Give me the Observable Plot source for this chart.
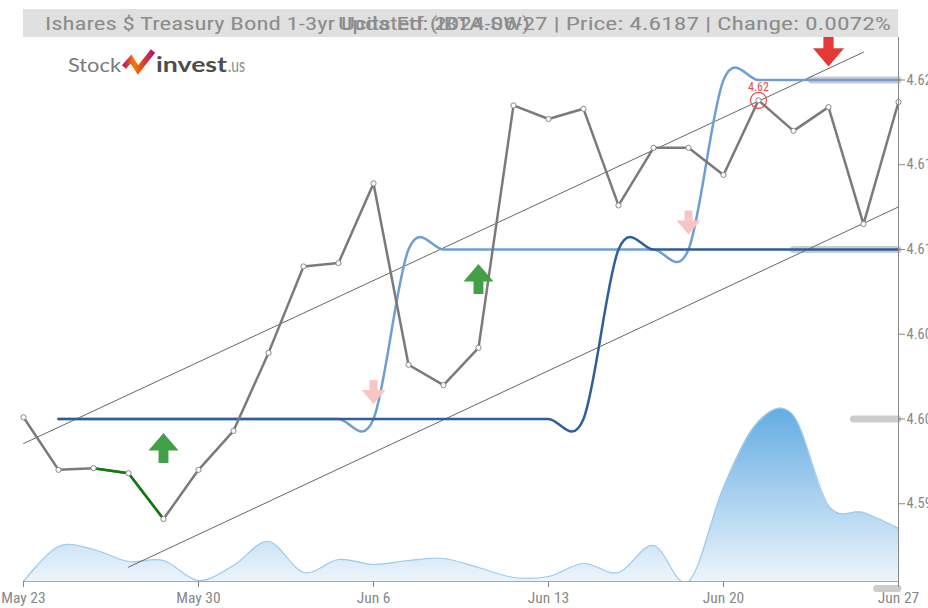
<!DOCTYPE html>
<html><head><meta charset="utf-8">
<script src="https://cdn.jsdelivr.net/npm/d3@7"></script>
<script src="https://cdn.jsdelivr.net/npm/@observablehq/plot@0.6"></script>
<style>
body{margin:0;background:#fff}
#chart{position:relative;width:928px;height:608px;overflow:hidden}
</style>
</head><body><div id="chart"></div>
<script>
// ---- data ----
const dates = ["May 23","May 24","May 27","May 28","May 29","May 30","May 31","Jun 3","Jun 4","Jun 5","Jun 6","Jun 7","Jun 10","Jun 11","Jun 12","Jun 13","Jun 14","Jun 17","Jun 18","Jun 19","Jun 20","Jun 21","Jun 24","Jun 25","Jun 26","Jun 27"];
const price = [4.6001,4.5970,4.5971,4.5968,4.5941,4.5970,4.5993,4.6039,4.6090,4.6092,4.6139,4.6032,4.6020,4.6042,4.6185,4.6177,4.6183,4.6126,4.6160,4.6160,4.6144,4.6188,4.6170,4.6184,4.6115,4.6187];
const volume = [0,35,32,20,21,1,16,40,9,22,17,21,23,14,4,5,18,9,36,0,94,160,166,76,69,53];
const longLevel = [NaN,4.600,4.600,4.600,4.600,4.600,4.600,4.600,4.600,4.600,4.600,4.600,4.600,4.600,4.600,4.600,4.600,4.610,4.610,4.610,4.610,4.610,4.610,4.610,4.610,4.610];
const shortLevel = [NaN,4.600,4.600,4.600,4.600,4.600,4.600,4.600,4.600,4.600,4.600,4.610,4.610,4.610,4.610,4.610,4.610,4.610,4.610,4.610,4.620,4.620,4.620,4.620,4.620,4.620];
const upperChannel = [{i:0, v:4.59855},{i:24, v:4.62164}];
const lowerChannel = [{i:3, v:4.59126},{i:25, v:4.61251}];
const profileLevels = [4.62, 4.61, 4.60, 4.59];
const profileLengths = [2.47, 2.99, 1.27, 0.61];
const buySignals = [{i:4, v:4.59829},{i:13, v:4.60826}];
const weakSellSignals = [{i:10, v:4.60159},{i:19, v:4.61159}];
const sellSignals = [{i:23, v:4.62171}];
const maxIndex = 21;
const xTicks = [0,5,10,15,20,25];
const yTicks = [4.595,4.600,4.605,4.610,4.615,4.620];
const yLo = 4.590413, yHi = 4.622507;
const volShare = 0.305;
const titleName = "Ishares $ Treasury Bond 1-3yr Ucits Etf (IBTA.SW)";
const titleInfo = "Updated: 2024-06-27 | Price: 4.6187 | Change: 0.0072%";

// ---- helpers ----
const idx = d3.range(dates.length);
const volMax = d3.max(volume);
const volY = v => yLo + v / volMax * volShare * (yHi - yLo);
function arrow(dir, head, shaft) {
  return {draw(ctx, size) {
    const r = Math.sqrt(size / Math.PI);
    const s = dir; // -1 up, 1 down
    ctx.moveTo(0, s * r);
    ctx.lineTo(r, s * -head * r);
    ctx.lineTo(shaft * r, s * -head * r);
    ctx.lineTo(shaft * r, s * -r);
    ctx.lineTo(-shaft * r, s * -r);
    ctx.lineTo(-shaft * r, s * -head * r);
    ctx.lineTo(-r, s * -head * r);
    ctx.closePath();
  }};
}
const upArrow = arrow(-1, 0.17, 0.33);
const downArrow = arrow(1, 0.17, 0.33);
const font = "'Liberation Sans Narrow','Roboto Condensed','DejaVu Sans Condensed','Liberation Sans',Arial,sans-serif";

const chart = Plot.plot({
  width: 928, height: 608,
  marginLeft: 23, marginRight: 30, marginTop: 37, marginBottom: 27,
  x: {domain: [0, 25], label: null},
  y: {domain: [yLo, yHi], label: null},
  style: {fontFamily: font, fontSize: "14px", background: "white"},
  marks: [
    Plot.areaY(idx, {x: i => i, y1: yLo, y2: i => volY(volume[i]), curve: "cardinal", fill: "url(#volGrad)", clip: true}),
    Plot.line(idx, {x: i => i, y: i => volY(volume[i]), curve: "cardinal", stroke: "#9ccbef", strokeWidth: 1.2, clip: true}),
    Plot.ruleY(d3.range(profileLevels.length), {y: j => profileLevels[j], x1: j => 25 - profileLengths[j], x2: 25, stroke: "#cccccc", strokeWidth: 7, strokeLinecap: "round"}),
    Plot.line(upperChannel, {x: "i", y: "v", stroke: "#666", strokeWidth: 1}),
    Plot.line(lowerChannel, {x: "i", y: "v", stroke: "#666", strokeWidth: 1}),
    Plot.line(idx, {x: i => i, y: i => shortLevel[i], curve: "cardinal", stroke: "#6f9fd2", strokeWidth: 2.5}),
    Plot.line(idx, {x: i => i, y: i => longLevel[i], curve: "cardinal", stroke: "#2f5f98", strokeWidth: 2.5}),
    Plot.line(idx, {x: i => i, y: i => price[i], stroke: "#7a7a7a", strokeWidth: 2.5}),
    Plot.line([2,3,4], {x: i => i, y: i => price[i], stroke: "#0b7d0b", strokeWidth: 2.5}),
    Plot.dot(idx, {x: i => i, y: i => price[i], r: 2.6, fill: "white", stroke: "#888", strokeWidth: 1}),
    Plot.dot(buySignals, {x: "i", y: "v", r: 15, symbol: upArrow, fill: "#43a047", stroke: null}),
    Plot.dot(weakSellSignals, {x: "i", y: "v", r: 12, symbol: downArrow, fill: "#f7c5c5", stroke: null}),
    Plot.dot(sellSignals, {x: "i", y: "v", r: 15.5, symbol: downArrow, fill: "#e53935", stroke: null}),
    Plot.dot([maxIndex], {x: i => i, y: i => price[i], r: 8, fill: "none", stroke: "#ef4a4a", strokeWidth: 1.2}),
    Plot.text([maxIndex], {x: i => i, y: i => price[i], text: i => price[i].toFixed(2), dy: -13, fill: "#ef4a4a", fontSize: 12}),
    Plot.ruleX([25], {stroke: "#888", strokeWidth: 1}),
    Plot.ruleY([yLo], {stroke: "#aaa", strokeWidth: 1}),
    Plot.axisX(xTicks, {tickFormat: i => dates[i], tickSize: 6, tickPadding: 4, color: "#888", fontSize: 15.5, label: null}),
    Plot.axisY(yTicks, {anchor: "right", tickFormat: d3.format(".3f"), tickSize: 6, tickPadding: 2, color: "#888", fontSize: 14.5, label: null})
  ]
});
document.getElementById("chart").appendChild(chart);

// ---- gradient, title and logo ----
const svg = d3.select(chart);
const defs = svg.insert("defs", ":first-child");
const g1 = defs.append("linearGradient").attr("id", "volGrad").attr("x1", 0).attr("y1", 0).attr("x2", 0).attr("y2", 1);
g1.append("stop").attr("offset", "0%").attr("stop-color", "#62ace2");
g1.append("stop").attr("offset", "100%").attr("stop-color", "#eef5fc");
const g2 = defs.append("linearGradient").attr("id", "logoGrad").attr("x1", 0).attr("y1", 0).attr("x2", 1).attr("y2", 0);
g2.append("stop").attr("offset", "0%").attr("stop-color", "#c2185b");
g2.append("stop").attr("offset", "35%").attr("stop-color", "#f57c00");
g2.append("stop").attr("offset", "60%").attr("stop-color", "#e64a19");
g2.append("stop").attr("offset", "100%").attr("stop-color", "#b0177a");

const title = svg.append("g").attr("text-anchor", "start");
title.append("rect").attr("x", 23).attr("y", 9).attr("width", 875).attr("height", 28).attr("fill", "#e0e0e0");
title.append("text").attr("x", 45).attr("y", 30).attr("font-size", 19).attr("fill", "#8c8c8c")
  .attr("font-family", font).attr("textLength", 485).attr("lengthAdjust", "spacingAndGlyphs").text(titleName);
title.append("text").attr("x", 338).attr("y", 30).attr("font-size", 19).attr("fill", "#8c8c8c")
  .attr("font-family", font).attr("textLength", 553).attr("lengthAdjust", "spacingAndGlyphs").text(titleInfo);

const logo = svg.append("g").attr("text-anchor", "start").attr("font-family", "Lato,'Open Sans',sans-serif");
logo.append("text").attr("x", 68).attr("y", 72).attr("font-size", 19).attr("fill", "#7a7a7a")
  .attr("textLength", 53).attr("lengthAdjust", "spacingAndGlyphs").text("Stock");
logo.append("path").attr("d", "M124,67 L131,59 L138,70 L153,51").attr("fill", "none")
  .attr("stroke", "url(#logoGrad)").attr("stroke-width", 5.5).attr("stroke-linejoin", "miter");
logo.append("text").attr("x", 156).attr("y", 72).attr("font-size", 20).attr("font-weight", 700).attr("fill", "#4d4d4d")
  .attr("textLength", 71).attr("lengthAdjust", "spacingAndGlyphs").text("invest");
logo.append("text").attr("x", 228).attr("y", 72).attr("font-size", 19).attr("fill", "#8a8a8a")
  .attr("textLength", 17).attr("lengthAdjust", "spacingAndGlyphs").text(".us");
</script>
</body></html>
